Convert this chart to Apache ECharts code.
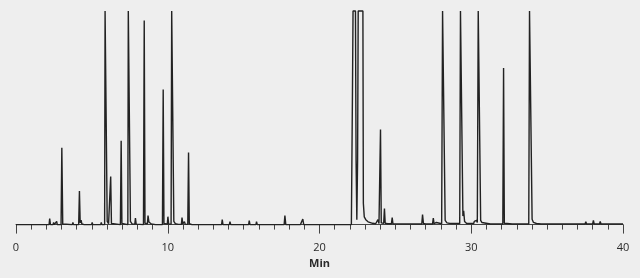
<!DOCTYPE html>
<html>
<head>
<meta charset="utf-8">
<script src="https://cdn.jsdelivr.net/npm/echarts@6/dist/echarts.min.js"></script>
<style>
html,body{margin:0;padding:0;background:#eeeeee;}
#c{width:640px;height:278px;}
</style>
</head>
<body>
<div id="c"></div>
<script>
// Chromatogram trace, [minutes, signal] (signal 100 = detector clipped)
var trace0to10 = [
[0,0],
[2.18,0],[2.22,2.8],[2.27,0],
[2.44,0],[2.48,1],[2.52,0],
[2.64,0],[2.68,1.5],[2.72,0],
[2.97,0],[3.02,36],[3.08,0.3],[3.2,0],
[3.71,0],[3.75,1],[3.79,0],
[4.13,0],[4.18,15.7],[4.23,0.8],[4.29,2.1],[4.34,0.3],[4.5,0],
[4.98,0],[5.02,1],[5.06,0],
[5.58,0],[5.62,1],[5.66,0],
[5.84,0],[5.87,100],[5.97,100],[6.01,1.5],[6.1,0.4],
[6.19,0.2],[6.24,22.5],[6.29,0.5],[6.4,0],
[6.88,0],[6.93,39.3],[6.98,0.5],[7.1,0],
[7.37,0],[7.40,100],[7.50,100],[7.54,1.5],[7.65,0.3],
[7.83,0.2],[7.87,3],[7.92,0.2],
[8.4,0],[8.45,95.5],[8.5,0.6],
[8.66,0.4],[8.7,4.2],[8.76,1.2],[8.85,1.5],[8.92,0.3],[9.05,0],
[9.2,0],[9.24,0.5],[9.28,0],
[9.65,0],[9.70,63.2],[9.75,0.5],[9.85,0.2],
[9.97,0.2],[10.01,3.7],[10.06,0.3]
];
var trace10to20 = [
[10.22,0.2],[10.26,100],[10.36,100],[10.40,1.5],[10.5,0.4],[10.7,0.1],
[10.90,0.1],[10.94,3.3],[10.99,0.4],[11.06,0.3],[11.1,1.4],[11.15,0.2],
[11.32,0.1],[11.37,33.7],[11.42,0.4],[11.6,0],
[12.32,0],[12.36,0.8],[12.4,0],
[12.76,0],[12.8,0.6],[12.84,0],
[13.06,0],[13.1,0.6],[13.14,0],
[13.55,0],[13.59,2.3],[13.64,0],
[14.06,0],[14.1,1.4],[14.15,0],
[14.96,0],[15.0,0.9],[15.05,0],
[15.33,0],[15.37,1.9],[15.42,0],
[15.81,0],[15.85,1.4],[15.9,0],
[16.21,0],[16.25,0.5],[16.29,0],
[17.67,0],[17.72,4.2],[17.78,0],
[18.75,0],[18.8,1.0],[18.84,0.8],[18.9,2.6],[18.96,0],
[20,0]
];
var trace20to30 = [
[22.1,0],[22.17,60],[22.21,100],[22.37,100],[22.41,30],[22.46,2.3],[22.51,30],[22.55,100],[22.86,100],[22.89,10],[22.95,3.6],[23.05,2.3],[23.2,1.3],[23.5,0.6],[23.7,0.4],
[23.81,0.4],[23.85,2.3],[23.92,0.5],[23.97,0.5],[24.02,44.5],[24.07,0.8],[24.23,0.6],[24.28,7.5],[24.33,0.6],[24.5,0.4],[24.74,0.4],[24.79,3.3],[24.84,0.4],
[26.74,0.3],[26.79,4.7],[26.85,0.5],[27.0,0.3],
[27.45,0.3],[27.5,3.1],[27.55,0.4],[27.66,0.4],[27.7,1],[27.74,0.4],
[28.05,0.4],[28.11,100],[28.23,100],[28.28,2],[28.4,0.8],[28.5,1.5],[28.55,0.6],[28.76,0.5],[28.8,1],[28.84,0.5],
[29.24,0.5],[29.29,100],[29.41,100],[29.45,4],[29.5,6.5],[29.56,1.5],[29.65,1.4],[29.7,0.5],
[30.16,0.5],[30.2,1.5],[30.25,0.8],[30.35,2],[30.4,1]
];
var trace30to40 = [
[30.42,1],[30.46,100],[30.58,100],[30.62,2],[30.7,1],[30.8,0.5],
[31.26,0.3],[31.3,0.5],[31.34,0.3],
[31.76,0.3],[31.8,0.5],[31.84,0.3],
[32.08,0.3],[32.13,73.3],[32.18,0.6],[32.3,0.3],
[32.7,0.3],[32.74,0.6],[32.78,0.3],
[33.16,0.3],[33.2,0.5],[33.24,0.3],
[33.79,0.3],[33.84,100],[33.96,100],[34.01,2.5],[34.1,1],[34.3,0.5],[34.6,0.3],
[37.5,0.3],[37.55,1.4],[37.6,0.3],
[38.0,0.3],[38.05,2],[38.1,0.3],
[38.45,0.3],[38.5,1.5],[38.55,0.3],
[39.16,0.3],[39.2,0.6],[39.24,0.3],
[40,0.3]
];
var xTicks = [0, 10, 20, 30, 40];
var axisName = 'Min';

var trace = trace0to10.concat(trace10to20, trace20to30, trace30to40);

var chart = echarts.init(document.getElementById('c'), null, {renderer: 'canvas'});
chart.setOption({
  backgroundColor: '#eeeeee',
  animation: false,
  grid: {left: 16, right: 17, top: 11, bottom: 47},
  xAxis: {
    type: 'value',
    min: xTicks[0],
    max: xTicks[xTicks.length - 1],
    interval: 10,
    name: axisName,
    nameLocation: 'middle',
    nameGap: 25,
    nameTextStyle: {fontFamily: 'Open Sans', fontSize: 11, fontWeight: 'bold', color: '#2a2a2a'},
    axisLine: {show: true, lineStyle: {color: '#444', width: 1}},
    axisTick: {show: true, length: 9, lineStyle: {color: '#444', width: 1}},
    minorTick: {show: true, splitNumber: 10, length: 5, lineStyle: {color: '#444', width: 1}},
    splitLine: {show: false},
    axisLabel: {fontFamily: 'Open Sans', fontSize: 11, color: '#2a2a2a', margin: 11}
  },
  yAxis: {
    type: 'value',
    min: -3,
    max: 100,
    show: false
  },
  series: [{
    type: 'line',
    data: trace,
    showSymbol: false,
    clip: false,
    lineStyle: {color: '#222', width: 1.4},
    silent: true
  }]
});
</script>
</body>
</html>
